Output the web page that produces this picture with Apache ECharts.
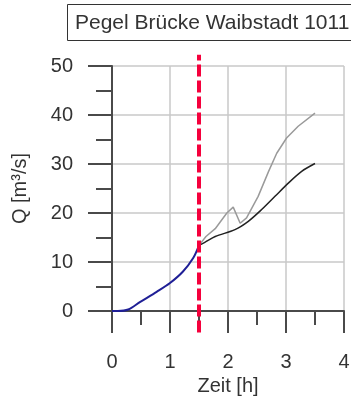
<!DOCTYPE html>
<html>
<head>
<meta charset="utf-8">
<script src="https://cdn.jsdelivr.net/npm/echarts@6/dist/echarts.min.js"></script>
<style>
  html, body { margin: 0; padding: 0; background: #ffffff; }
  #view { width: 351px; height: 401px; }
</style>
</head>
<body>
<div id="view"></div>
<script>
// Pegel Brücke Waibstadt – Abfluss über Zeit
let titleText = "Pegel Brücke Waibstadt 1011";

// gemessen (blau)
let blueX = [0, 0.1, 0.28, 0.48, 0.77, 1.0, 1.22, 1.4, 1.5];
let blueY = [0, 0, 0.3, 1.8, 3.9, 5.7, 8.0, 10.8, 13.4];

// Vorhersage schwarz
let blackX = [1.5, 1.6, 1.78, 2.12, 2.35, 2.58, 2.81, 3.04, 3.27, 3.5];
let blackY = [13.4, 14.0, 15.2, 16.6, 18.3, 20.7, 23.4, 26.1, 28.5, 30.1];

// Vorhersage grau
let grayX = [1.5, 1.62, 1.78, 1.98, 2.09, 2.21, 2.32, 2.52, 2.7, 2.84, 3.01, 3.21, 3.5];
let grayY = [13.4, 15.2, 16.8, 20.0, 21.2, 17.9, 19.0, 23.4, 28.5, 32.2, 35.3, 37.7, 40.4];

// Jetzt-Linie (rot gestrichelt)
let nowX = [1.5, 1.5];
let nowY = [-4.4, 52.3];

function pairs(xs, ys) {
  return xs.map((x, i) => [x, ys[i]]);
}

let myChart = echarts.init(document.getElementById("view"));

let axisColor = "#4a4a4a";
let gridColor = "#c8c8c8";
let textColor = "#333333";
let fontFamily = "Liberation Sans, Arial, sans-serif";

let option = {
  backgroundColor: "#ffffff",
  animation: false,
  grid: {
    left: 112,
    right: 7,
    top: 66,
    bottom: 90,
    outerBoundsMode: "none",
  },
  graphic: [
    {
      type: "rect",
      shape: { x: 67.5, y: 4.5, width: 300, height: 36 },
      style: { fill: "#ffffff", stroke: "#333333", lineWidth: 1 },
    },
    {
      type: "text",
      x: 75,
      y: 23,
      style: {
        text: titleText,
        fill: textColor,
        font: "21px " + fontFamily,
        verticalAlign: "middle",
      },
    },
  ],
  xAxis: {
    type: "value",
    min: 0,
    max: 4,
    interval: 1,
    name: "Zeit [h]",
    nameLocation: "middle",
    nameGap: 64,
    nameTextStyle: { color: textColor, fontSize: 20, fontFamily: fontFamily },
    axisLine: { show: true, onZero: false, lineStyle: { color: axisColor, width: 2 } },
    axisTick: { show: true, inside: false, length: 22, lineStyle: { color: axisColor, width: 2 } },
    minorTick: { show: true, splitNumber: 2, length: 14, lineStyle: { color: axisColor, width: 2 } },
    axisLabel: { margin: 41, color: textColor, fontSize: 20, fontFamily: fontFamily },
    splitLine: { show: true, lineStyle: { color: gridColor, width: 1.5 } },
  },
  yAxis: {
    type: "value",
    min: 0,
    max: 50,
    interval: 10,
    name: "Q [m³/s]",
    nameLocation: "middle",
    nameRotate: 90,
    nameGap: 82,
    nameTextStyle: { color: textColor, fontSize: 20, fontFamily: fontFamily },
    axisLine: { show: true, lineStyle: { color: axisColor, width: 2 } },
    axisTick: { show: true, inside: false, length: 24, lineStyle: { color: axisColor, width: 2 } },
    minorTick: { show: true, splitNumber: 2, length: 16, lineStyle: { color: axisColor, width: 2 } },
    axisLabel: { margin: 39, color: textColor, fontSize: 20, fontFamily: fontFamily },
    splitLine: { show: true, lineStyle: { color: gridColor, width: 1.5 } },
  },
  series: [
    {
      name: "grau",
      type: "line",
      data: pairs(grayX, grayY),
      showSymbol: false,
      lineStyle: { color: "#9a9a9a", width: 1.5 },
    },
    {
      name: "schwarz",
      type: "line",
      smooth: 0.3,
      data: pairs(blackX, blackY),
      showSymbol: false,
      lineStyle: { color: "#222222", width: 1.5 },
    },
    {
      name: "blau",
      type: "line",
      smooth: 0.3,
      data: pairs(blueX, blueY),
      showSymbol: false,
      lineStyle: { color: "#1f1f96", width: 2 },
    },
    {
      name: "jetzt",
      type: "line",
      clip: false,
      data: pairs(nowX, nowY),
      showSymbol: false,
      z: 5,
      lineStyle: { color: "#f5003c", width: 4, type: [12, 4] },
    },
  ],
};
myChart.setOption(option);
</script>
</body>
</html>
